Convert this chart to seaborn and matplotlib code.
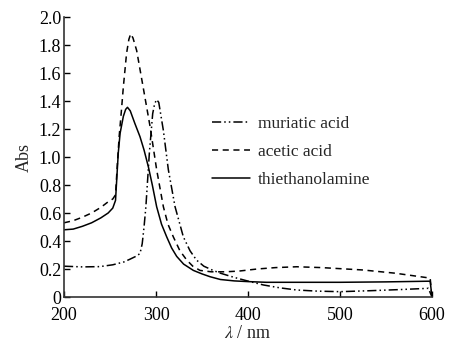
import numpy as np
import pandas as pd
import matplotlib
matplotlib.use("Agg")
import matplotlib.pyplot as plt
import seaborn as sns

# ---- data ----
tea_x = [200, 210, 220, 230, 240, 248, 253, 256, 257.5, 259, 261, 264.5, 267, 269, 272, 277, 282.6,
         287, 291.7, 296, 300.7, 306, 311.6, 317, 322.5, 330, 340.6, 350, 358.7, 370, 385, 400,
         420, 450, 500, 550, 598, 600]
tea_y = [0.48, 0.485, 0.505, 0.53, 0.565, 0.60, 0.635, 0.69, 0.86, 1.03, 1.17, 1.29, 1.34, 1.355, 1.33,
         1.24, 1.145, 1.05, 0.93, 0.80, 0.645, 0.52, 0.43, 0.35, 0.29, 0.235, 0.19, 0.165, 0.145,
         0.125, 0.115, 0.11, 0.105, 0.105, 0.105, 0.108, 0.113, 0.0]

ace_x = [200, 210, 220, 230, 240, 248, 253, 256, 258, 260, 262, 264.5, 268, 270.5, 272.5, 275, 279,
         286, 293.5, 300.7, 308, 313, 318.8, 326, 333.4, 340, 347.8, 360, 375, 390, 410, 430, 453,
         480, 525, 560, 598, 600]
ace_y = [0.53, 0.545, 0.57, 0.60, 0.64, 0.68, 0.70, 0.73, 0.95, 1.15, 1.30, 1.50, 1.74, 1.84, 1.88,
         1.85, 1.76, 1.50, 1.22, 0.91, 0.645, 0.52, 0.43, 0.33, 0.264, 0.22, 0.19, 0.18, 0.18,
         0.185, 0.20, 0.21, 0.216, 0.21, 0.193, 0.17, 0.135, 0.0]

mur_x = [200, 220, 239, 253, 265, 271.7, 278, 282.6, 285, 287, 289, 292.8, 296.4, 298.5, 300.7, 303,
         308, 313.4, 320.7, 329.7, 337, 344, 352, 362, 370, 385, 398.6, 416.7, 435, 453, 475, 500,
         533, 565, 596, 600]
mur_y = [0.22, 0.215, 0.217, 0.23, 0.25, 0.27, 0.29, 0.31, 0.38, 0.50, 0.645, 1.03, 1.31, 1.38, 1.41,
         1.39, 1.19, 0.91, 0.645, 0.43, 0.33, 0.264, 0.22, 0.19, 0.17, 0.14, 0.116, 0.086, 0.065,
         0.05, 0.042, 0.038, 0.045, 0.053, 0.062, 0.0]

labels = ["muriatic acid", "acetic acid", "thiethanolamine"]
x_ticks = [200, 300, 400, 500, 600]
y_ticks = [0, 0.2, 0.4, 0.6, 0.8, 1.0, 1.2, 1.4, 1.6, 1.8, 2.0]
y_tick_labels = ["0", "0.2", "0.4", "0.6", "0.8", "1.0", "1.2", "1.4", "1.6", "1.8", "2.0"]

df = pd.concat([
    pd.DataFrame({"wl": mur_x, "abs": mur_y, "sample": labels[0]}),
    pd.DataFrame({"wl": ace_x, "abs": ace_y, "sample": labels[1]}),
    pd.DataFrame({"wl": tea_x, "abs": tea_y, "sample": labels[2]}),
])

sns.set_theme(style="ticks")
plt.rcParams["font.family"] = ["Liberation Serif", "DejaVu Serif"]
plt.rcParams["mathtext.fontset"] = "stix"

fig = plt.figure(figsize=(4.53, 3.43), dpi=100)
ax = fig.add_axes([64 / 453, 1 - 297 / 343, (432 - 64) / 453, (297 - 17) / 343])

styles = {labels[0]: (0, (6, 2, 1, 2, 1, 2)),
          labels[1]: (0, (4, 3)),
          labels[2]: "-"}
for lab in labels:
    sub = df[df["sample"] == lab]
    sns.lineplot(data=sub, x="wl", y="abs", ax=ax, color="black", linewidth=1.1,
                 linestyle=styles[lab], label=lab, estimator=None, sort=False)

ax.set_xlim(200, 600)
ax.set_ylim(0, 2.0)
ax.set_xticks(x_ticks)
ax.set_yticks(y_ticks)
ax.set_yticklabels(y_tick_labels)
ax.tick_params(direction="in", length=4.5, width=1.0, labelsize=13, colors="black")
ax.tick_params(axis="y", pad=2)
ax.tick_params(axis="x", pad=7)
for s in ["top", "right"]:
    ax.spines[s].set_visible(False)
for s in ["left", "bottom"]:
    ax.spines[s].set_linewidth(1.2)
    ax.spines[s].set_color("#333333")

ax.set_xlabel(r"$\lambda$ / nm", fontsize=13, labelpad=1)
ax.set_ylabel("Abs", fontsize=13, labelpad=4)

ax.legend(loc="upper left", bbox_to_anchor=(212 / 453, 1 - 116 / 343),
          bbox_transform=fig.transFigure, frameon=False, fontsize=12.5,
          handlelength=2.2, handletextpad=0.45, labelspacing=0.68, borderpad=0, borderaxespad=0)

fig.savefig("out.png", dpi=100)
